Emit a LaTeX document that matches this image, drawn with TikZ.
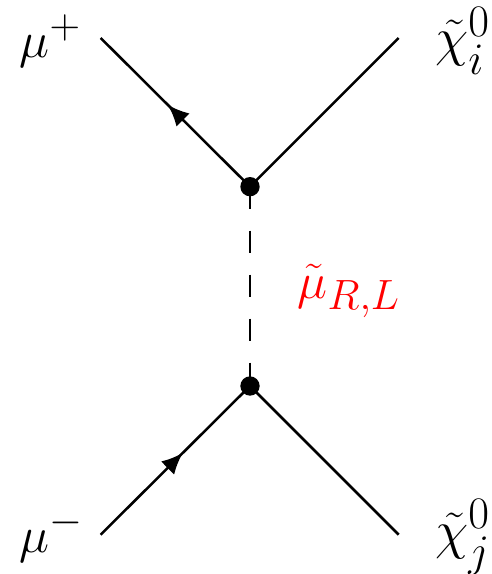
\documentclass[tikz,border=0pt]{standalone}
\usepackage{amsmath, amssymb}
\usetikzlibrary{calc, positioning, decorations.markings, arrows.meta}
\tikzset{
  vtx/.style={circle,fill,inner sep=0pt,minimum size=14.5pt},
  lbl/.style={inner sep=0pt,scale=1.63,font=\Huge},
  mulbl/.style={inner sep=0pt,scale=1.53,font=\Huge},
  plainline/.style={line width=1.9pt},
  fermion/.style={plainline,postaction={decorate},decoration={markings,mark=at position 0.55 with {\arrow{Latex[length=16pt,width=14pt]}}}},
}
\begin{document}
\begin{tikzpicture}[x=1pt,y=-1pt]
  \useasboundingbox (0,0) rectangle (369,430.5);
  % vertices
  \node[vtx] (Vt) at (187.5,140) {};
  \node[vtx] (Vb) at (187.5,289.5) {};
  % free ends
  \coordinate (Mp) at (75.5,28.5);
  \coordinate (Cu) at (299,28.5);
  \coordinate (Mm) at (75.5,401);
  \coordinate (Cd) at (299,401);
  % lines
  \draw[fermion] (Vt.center) -- (Mp);
  \draw[plainline] (Vt.center) -- (Cu);
  \draw[fermion] (Mm) -- (Vb.center);
  \draw[plainline] (Vb.center) -- (Cd);
  \draw[line width=1.9pt,dash pattern=on 16.5pt off 16.5pt] (Vt.center) -- (Vb.center);
  % labels
  \node[mulbl,anchor=base west] (Lmp) at (14.5,43) {$\mu^+$};
  \node[mulbl,anchor=base west] (Lmm) at (14.5,414) {$\mu^-$};
  \node[lbl,anchor=base west] (Lcu) at (326,42) {$\tilde\chi_i^0$};
  \node[lbl,anchor=base west] (Lcd) at (326,411) {$\tilde\chi_j^0$};
  \node[mulbl,anchor=base west,text=red] (Lsm) at (223,223.5) {$\tilde\mu_{R,L}$};
\end{tikzpicture}
\end{document}
